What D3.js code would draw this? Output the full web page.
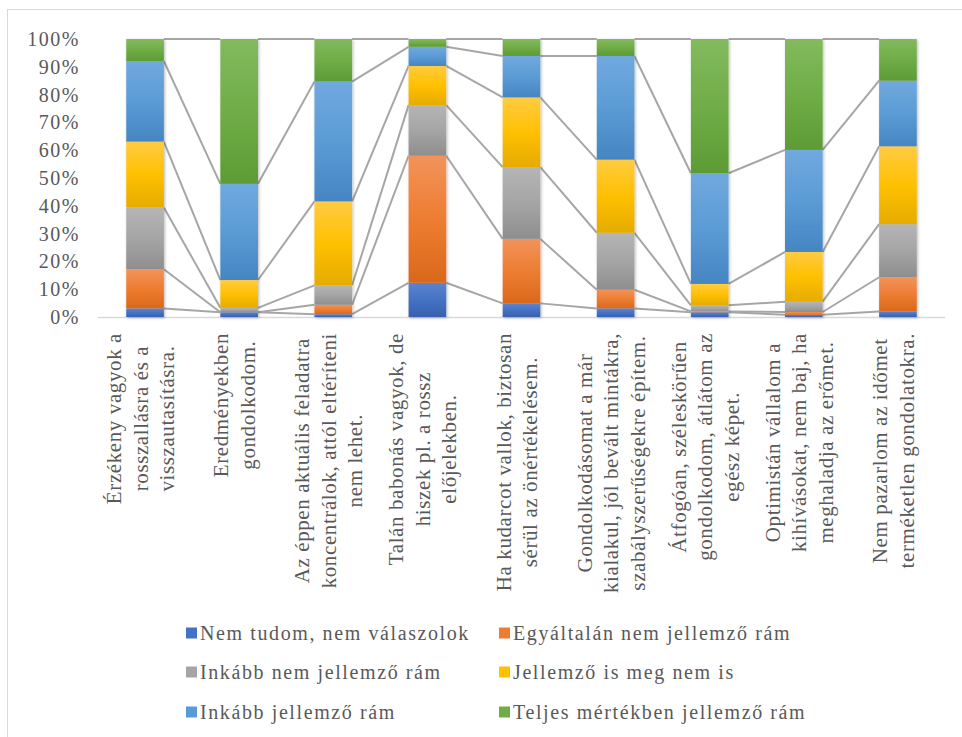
<!DOCTYPE html>
<html lang="hu">
<head>
<meta charset="utf-8">
<script src="https://cdn.jsdelivr.net/npm/d3@7/dist/d3.min.js"></script>
<style>
  html, body { margin: 0; padding: 0; background: #fff; }
  svg { display: block; }
  text { font-family: "Liberation Serif", "DejaVu Serif", serif; fill: #595959; }
</style>
</head>
<body>
<svg id="chart" width="962" height="737"></svg>
<script>
// Statements (category labels, one entry per wrapped line)
const categories = [
  ["Érzékeny vagyok a", "rosszallásra és a", "visszautasításra."],
  ["Eredményekben", "gondolkodom."],
  ["Az éppen aktuális feladatra", "koncentrálok, attól eltéríteni", "nem lehet."],
  ["Talán babonás vagyok, de", "hiszek pl. a rossz", "előjelekben."],
  ["Ha kudarcot vallok, biztosan", "sérül az önértékelésem."],
  ["Gondolkodásomat a már", "kialakul, jól bevált mintákra,", "szabályszerűségekre építem."],
  ["Átfogóan, széleskörűen", "gondolkodom, átlátom az", "egész képet."],
  ["Optimistán vállalom a", "kihívásokat, nem baj, ha", "meghaladja az erőmet."],
  ["Nem pazarlom az időmet", "terméketlen gondolatokra."]
];

const seriesNames = [
  "Nem tudom, nem válaszolok",
  "Egyáltalán nem jellemző rám",
  "Inkább nem jellemző rám",
  "Jellemző is meg nem is",
  "Inkább jellemző rám",
  "Teljes mértékben jellemző rám"
];

// Answer shares per statement (%)
const nemTudom      = [3.1, 1.7, 1.0, 12.3, 4.9, 3.1, 1.7, 0.8, 2.0];
const egyaltalanNem = [14.1, 0.0, 3.4, 45.7, 23.2, 6.7, 0.3, 1.0, 12.3];
const inkabbNem     = [22.2, 1.6, 7.0, 18.2, 25.8, 20.5, 2.2, 3.7, 19.1];
const isIsNem       = [23.7, 10.0, 30.2, 14.1, 25.1, 26.3, 7.7, 17.9, 28.0];
const inkabbIgen    = [29.0, 34.6, 43.1, 6.9, 14.9, 37.3, 39.8, 36.7, 23.6];
const teljesen      = [7.9, 52.1, 15.3, 2.8, 6.1, 6.1, 48.3, 39.9, 15.0];

const yTicks = [0, 0.1, 0.2, 0.3, 0.4, 0.5, 0.6, 0.7, 0.8, 0.9, 1];

// Fill colours: [top, middle, bottom] of each vertical gradient
const palette = [
  ["#5d83d0", "#4472c4", "#3960ad"],
  ["#f2935b", "#ed7d31", "#da681c"],
  ["#b5b5b5", "#a5a5a5", "#8e8e8e"],
  ["#ffcb42", "#ffc000", "#e5ac00"],
  ["#70a9de", "#5b9bd5", "#4585c3"],
  ["#82ba5e", "#70ad47", "#5d9b35"]
];

const FONT = '"Liberation Serif", "DejaVu Serif", serif';

const seriesValues = [nemTudom, egyaltalanNem, inkabbNem, isIsNem, inkabbIgen, teljesen];
const rows = categories.map((c, i) => {
  const r = { idx: i };
  seriesValues.forEach((arr, s) => { r["s" + s] = arr[i]; });
  return r;
});
const keys = seriesValues.map((_, s) => "s" + s);

const svg = d3.select("#chart");
const margin = { left: 98, right: 17, top: 39, baseline: 317 };

const x = d3.scaleBand()
  .domain(d3.range(categories.length))
  .range([margin.left, 962 - margin.right])
  .paddingInner(0.6)
  .paddingOuter(0.3);

const y = d3.scaleLinear().domain([0, 1]).range([margin.baseline, margin.top]);

const stacked = d3.stack().keys(keys).offset(d3.stackOffsetExpand)(rows);

// Definitions: gradients and the soft shadow under the columns
const defs = svg.append("defs");
palette.forEach((p, s) => {
  const g = defs.append("linearGradient")
    .attr("id", "grad" + s)
    .attr("x1", 0).attr("y1", 0).attr("x2", 0).attr("y2", 1);
  g.append("stop").attr("offset", "0%").attr("stop-color", p[0]);
  g.append("stop").attr("offset", "50%").attr("stop-color", p[1]);
  g.append("stop").attr("offset", "100%").attr("stop-color", p[2]);
});
const shadow = defs.append("filter").attr("id", "shadow")
  .attr("x", "-30%").attr("y", "-5%").attr("width", "160%").attr("height", "110%");
shadow.append("feDropShadow")
  .attr("dx", 1).attr("dy", 1).attr("stdDeviation", 1.6)
  .attr("flood-color", "#000").attr("flood-opacity", 0.28);

// Chart frame
svg.append("line").attr("x1", 7.5).attr("x2", 7.5).attr("y1", 9).attr("y2", 737)
  .attr("stroke", "#d9d9d9").attr("stroke-width", 1);
svg.append("line").attr("x1", 7).attr("x2", 962).attr("y1", 9.5).attr("y2", 9.5)
  .attr("stroke", "#d9d9d9").attr("stroke-width", 1);

// Category axis line
svg.append("line")
  .attr("x1", margin.left).attr("x2", 962 - margin.right)
  .attr("y1", margin.baseline + 0.5).attr("y2", margin.baseline + 0.5)
  .attr("stroke", "#d9d9d9").attr("stroke-width", 1.5);

// Series lines joining the top of each segment to the next column
const seriesLines = svg.append("g").attr("class", "series-lines");
stacked.forEach(layer => {
  for (let i = 0; i < layer.length - 1; i++) {
    seriesLines.append("line")
      .attr("x1", x(i) + x.bandwidth())
      .attr("y1", y(layer[i][1]))
      .attr("x2", x(i + 1))
      .attr("y2", y(layer[i + 1][1]))
      .attr("stroke", "#a6a6a6")
      .attr("stroke-width", 2);
  }
});

// Stacked columns
const columns = svg.append("g").attr("class", "columns")
  .selectAll("g")
  .data(d3.range(categories.length))
  .join("g")
  .attr("filter", "url(#shadow)");

columns.selectAll("rect")
  .data(i => stacked.map((layer, s) => ({ s, v0: layer[i][0], v1: layer[i][1], i })))
  .join("rect")
  .attr("x", d => x(d.i))
  .attr("width", x.bandwidth())
  .attr("y", d => y(d.v1))
  .attr("height", d => Math.max(0, y(d.v0) - y(d.v1)))
  .attr("fill", d => `url(#grad${d.s})`);

// Value axis
const yAxis = svg.append("g")
  .attr("transform", `translate(${margin.left},0)`)
  .call(d3.axisLeft(y).tickValues(yTicks).tickFormat(d3.format(".0%")).tickSize(0).tickPadding(18));
yAxis.attr("font-family", null);
yAxis.select(".domain").remove();
yAxis.selectAll("text")
  .style("font-family", FONT)
  .style("font-size", "20px")
  .style("letter-spacing", "1.5px")
  .attr("fill", "#595959");

// Rotated, multi-line category labels
const labelTop = 333;
const lineH = 26.5;
categories.forEach((lines, i) => {
  const cx = x(i) + x.bandwidth() / 2;
  const g = svg.append("g").attr("transform", `translate(${cx},${labelTop}) rotate(-90)`);
  const texts = lines.map((ln, k) => g.append("text")
    .attr("y", (k - (lines.length - 1) / 2) * lineH)
    .attr("dy", "0.12em")
    .style("font-family", FONT)
    .style("font-size", "21px")
    .style("letter-spacing", "0.6px")
    .text(ln));
  const maxW = d3.max(texts, t => t.node().getComputedTextLength());
  texts.forEach(t => t.attr("x", -maxW / 2).attr("text-anchor", "middle"));
});

// Legend
const legendCols = [186, 499];
const legendRows = [633, 672, 712];
const legend = svg.append("g").attr("class", "legend");
seriesNames.forEach((name, s) => {
  const lx = legendCols[s % 2];
  const ly = legendRows[Math.floor(s / 2)];
  legend.append("rect")
    .attr("x", lx).attr("y", ly - 5.5)
    .attr("width", 11).attr("height", 11)
    .attr("fill", palette[s][1]);
  legend.append("text")
    .attr("x", lx + 14).attr("y", ly)
    .attr("dy", "0.35em")
    .style("font-family", FONT)
    .style("font-size", "20px")
    .style("letter-spacing", "1.6px")
    .text(name);
});
</script>
</body>
</html>
